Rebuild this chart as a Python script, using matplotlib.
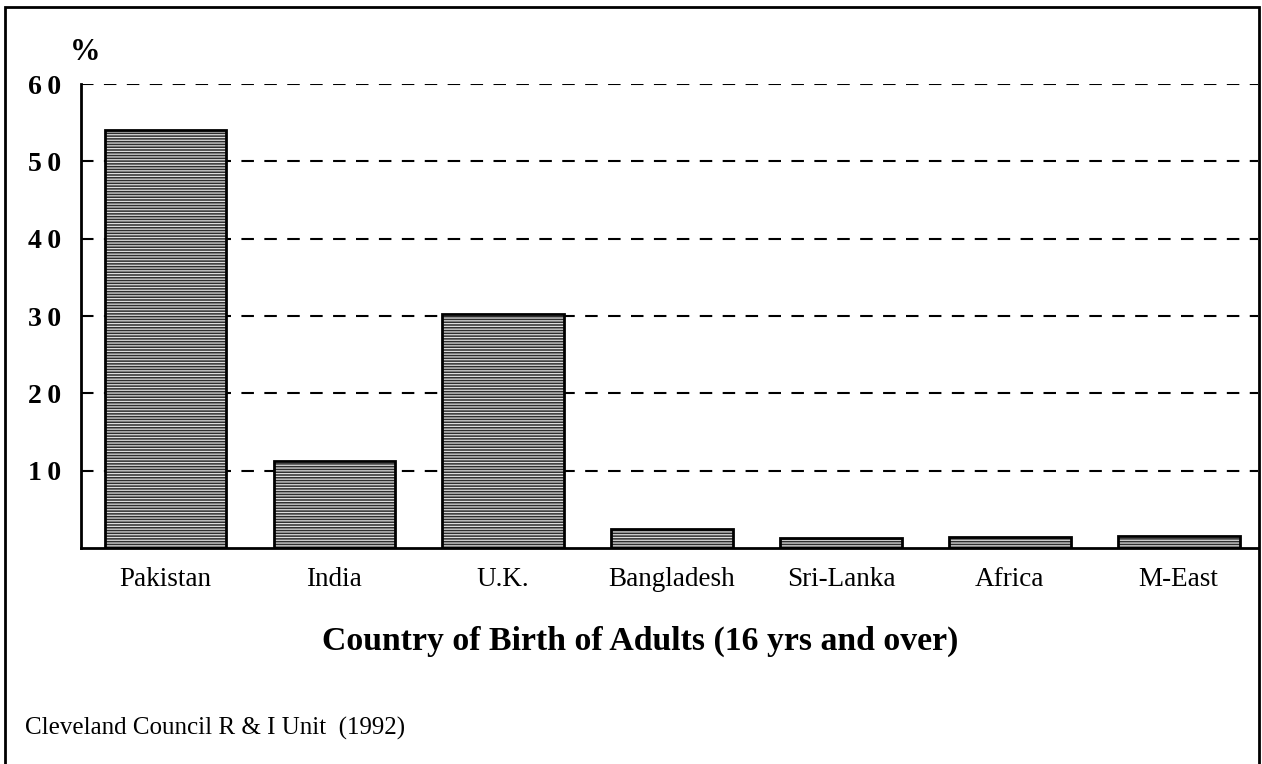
import matplotlib
matplotlib.use("Agg")
import matplotlib.pyplot as plt
from matplotlib.patches import Rectangle

plt.rcParams['font.family'] = ['Liberation Serif', 'DejaVu Serif']
plt.rcParams['hatch.linewidth'] = 0.9

countries = ["Pakistan", "India", "U.K.", "Bangladesh", "Sri-Lanka", "Africa", "M-East"]
percent = [54.1, 11.2, 30.3, 2.4, 1.3, 1.4, 1.5]
yticks = [10, 20, 30, 40, 50, 60]

fig = plt.figure(figsize=(12.62, 7.64), dpi=100)
ax = fig.add_axes([0.0642, 0.2827, 0.9327, 0.6073])

x = range(len(countries))
# dark fill, white horizontal streaks, black outline
ax.bar(x, percent, width=0.72, color='#2e2e2e', edgecolor='none', zorder=2)
ax.bar(x, percent, width=0.72, color='none', edgecolor='#dddddd', hatch='------', linewidth=0, zorder=3)
ax.bar(x, percent, width=0.72, color='none', edgecolor='black', linewidth=2, zorder=4)

ax.set_ylim(0, 60)
ax.set_xlim(-0.5, 6.47)
ax.set_yticks(yticks)
ax.set_yticklabels(["\u2009".join(str(v)) for v in yticks], fontsize=20, fontweight='bold')
ax.set_xticks(list(x))
ax.set_xticklabels(countries, fontsize=19.5)
ax.tick_params(axis='x', length=0, pad=14)
ax.tick_params(axis='y', length=0, pad=14)
ax.yaxis.grid(True, linestyle=(0, (6, 5)), color='black', linewidth=1.5, zorder=1)
ax.set_axisbelow(True)

for s in ['top', 'right']:
    ax.spines[s].set_visible(False)
for s in ['left', 'bottom']:
    ax.spines[s].set_linewidth(2)
    ax.spines[s].set_zorder(5)

fig.text(0.0555, 0.922, "%", fontsize=22, fontweight='bold')
fig.text(0.507, 0.15, "Country of Birth of Adults (16 yrs and over)", fontsize=24.3,
         fontweight='bold', ha='center')
fig.text(0.02, 0.038, "Cleveland Council R & I Unit  (1992)", fontsize=18)

fig.patches.append(Rectangle((0.004, -0.01), 0.994, 1.001, transform=fig.transFigure,
                             fill=False, edgecolor='black', linewidth=2))

fig.savefig("out.png", dpi=100)
